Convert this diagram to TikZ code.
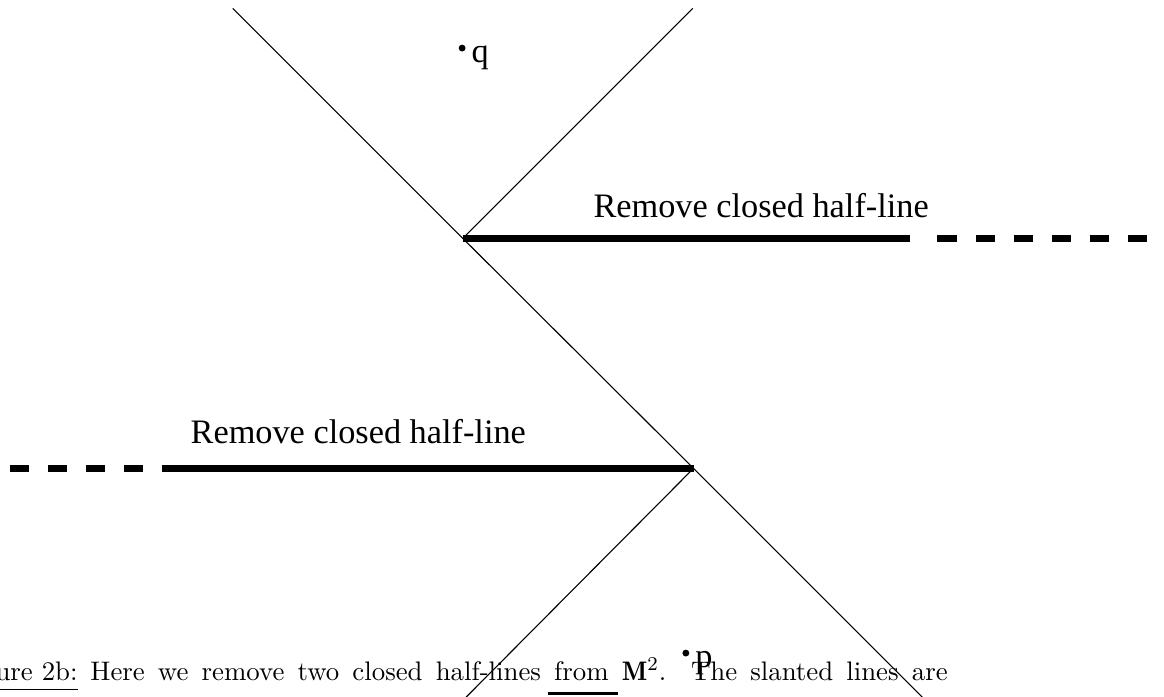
\documentclass[tikz,border=0pt]{standalone}
\usepackage{fontspec}
\usepackage{amsmath}
\usetikzlibrary{positioning}
\newfontfamily\timesfont{Liberation Serif}

\begin{document}
\begin{tikzpicture}[
    slant/.style={line width=0.45pt},
    cut/.style={line width=2.6pt},
    cutdash/.style={line width=2.6pt, dash pattern=on 0.273cm off 0.273cm},
    dot/.style={circle, fill, inner sep=0pt, minimum size=2.8pt},
    lbl/.style={font=\timesfont\fontsize{14}{16}\selectfont, inner sep=0pt},
    capt/.style={font=\fontsize{10.95}{13.6}\selectfont, inner sep=0pt}]
    \useasboundingbox (0,0) rectangle (16.70,9.99);
    % the two light cones
    \coordinate(A) at (6.64,6.57);
    \coordinate(B) at (9.95,3.27);
    \coordinate(tl) at (3.34,9.87);
    \coordinate(tr) at (9.94,9.87);
    \coordinate(bl) at (6.65,-0.05);
    \coordinate(br) at (13.27,-0.05);
    \draw[slant] (tl) -- (A) -- (B) -- (br);
    \draw[slant] (A) -- (tr);
    \draw[slant] (B) -- (bl);
    % removed half-lines
    \coordinate(ae) at (13.06,6.57);
    \coordinate(ad) at (13.45,6.57);
    \coordinate(af) at (16.47,6.57);
    \draw[cut] (A) -- (ae);
    \draw[cutdash] (ad) -- (af);
    \coordinate(be) at (2.50,3.27);
    \coordinate(bd) at (0.14,3.27);
    \draw[cut] (B) -- (be);
    \draw[cutdash] (bd) -- (be);
    \node(up) [lbl, anchor=base] at (10.92,6.87) {Remove closed half-line};
    \node(down) [lbl, anchor=base] at (5.14,3.63) {Remove closed half-line};
    % points
    \node(q) [dot] at (6.63,9.30) {};
    \node(qname) [lbl, anchor=base west] at (6.76,9.09) {q};
    \node(p) [dot] at (9.84,0.62) {};
    \node(pname) [lbl, anchor=base west] at (9.97,0.42) {p};
    % caption
    \node(fig) [capt, anchor=base east] at (1.12,0.23) {\underline{Figure 2b:}};
    \node(cap) [capt, anchor=base west] at (1.29,0.23)
      {\makebox[12.30cm][s]{Here we remove two closed half-lines from $\mathbf{M}^2$. The slanted lines are}};
    \draw[line width=1.2pt] (7.86,0.04) -- (8.87,0.04);
\end{tikzpicture}
\end{document}
